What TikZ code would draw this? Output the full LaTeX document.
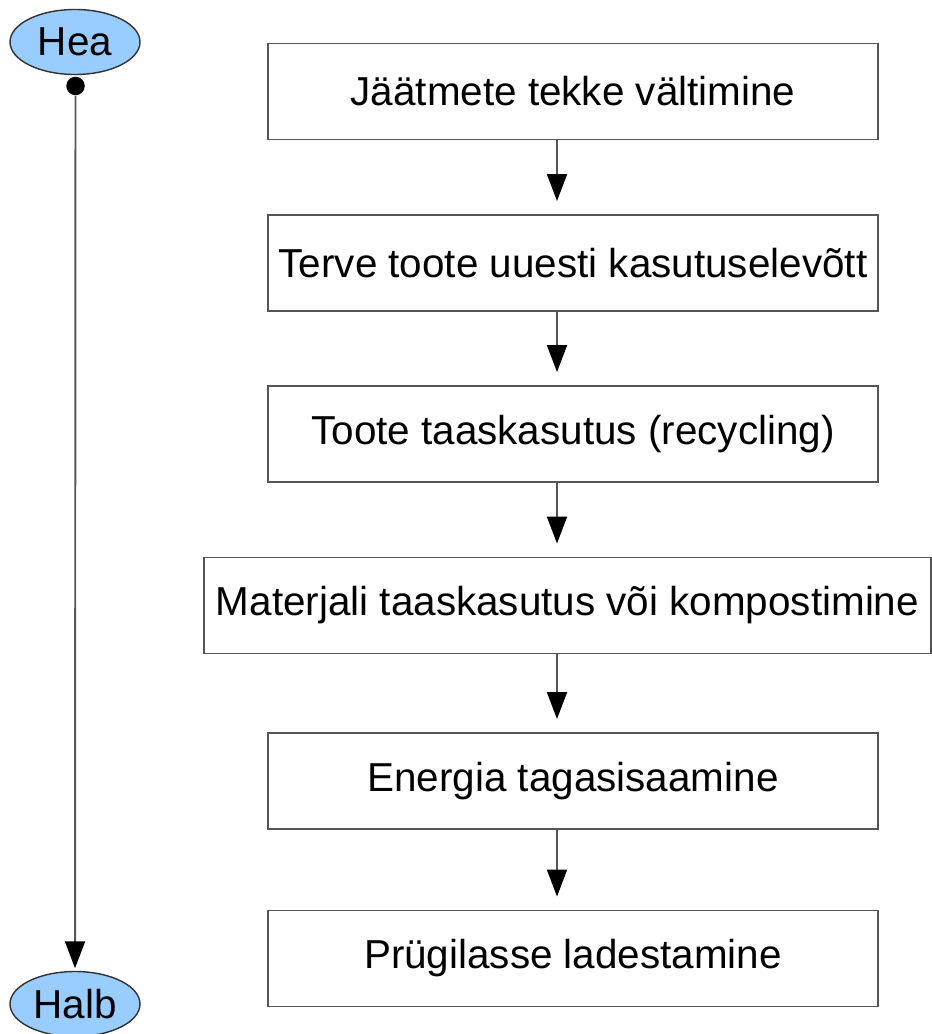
\documentclass[tikz,border=0pt]{standalone}
\usepackage{fontspec}
\setmainfont{Liberation Sans}
\usetikzlibrary{arrows.meta}
\usetikzlibrary{shapes.geometric}

\definecolor{ovalblue}{HTML}{99CCFF}
\definecolor{edgegray}{HTML}{555555}

\tikzset{
  stepbox/.style={draw=edgegray,line width=1.1pt,minimum width=12.2cm,minimum height=1.92cm,inner sep=0pt,font=\fontsize{23}{27}\selectfont},
  oval/.style={ellipse,draw=black!80,fill=ovalblue,line width=0.8pt,minimum width=2.6cm,minimum height=1.3cm,inner sep=0pt,font=\fontsize{23}{27}\selectfont},
  flow/.style={draw=edgegray,line width=1.1pt,-{Triangle[length=5.4mm,width=4mm,color=black]},shorten >=0.26cm}
}

\begin{document}
\begin{tikzpicture}
  % Constants
  \pgfmathsetmacro\bx{11.46}
  \pgfmathsetmacro\ax{11.14}
  % Boundary
  \path[use as bounding box] (0,0) rectangle (18.62,-20.68);
  % Scale from good to bad
  \node[oval] (hea) at (1.5,-0.84) {Hea};
  \node[oval] (halb) at (1.5,-20.08) {Halb};
  \node[circle,fill=black,inner sep=0,minimum size=0.37cm] (dot) at (1.51,-1.72) {};
  \draw[flow,shorten >=0.05cm] (dot) -- (halb);
  % Steps
  \node[stepbox] (b1) at (\bx,-1.83) {Jäätmete tekke vältimine};
  \node[stepbox] (b2) at (\bx,-5.26) {Terve toote uuesti kasutuselevõtt};
  \node[stepbox] (b3) at (\bx,-8.68) {Toote taaskasutus (recycling)};
  \node[stepbox,minimum width=14.54cm] (b4) at (11.35,-12.11) {Materjali taaskasutus või kompostimine};
  \node[stepbox] (b5) at (\bx,-15.62) {Energia tagasisaamine};
  \node[stepbox] (b6) at (\bx,-19.17) {Prügilasse ladestamine};
  % Arrows
  \coordinate (ax) at (\ax,0);
  \foreach \i/\j in {b1/b2,b2/b3,b3/b4,b4/b5,b5/b6}
    \draw[flow] (\i.south -| ax) -- (\j.north -| ax);
\end{tikzpicture}
\end{document}
